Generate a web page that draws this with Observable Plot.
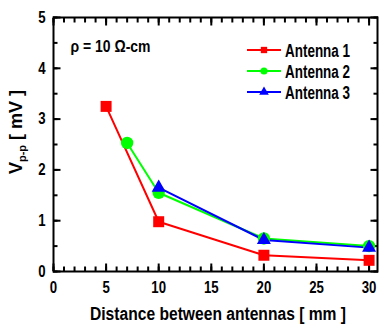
<!DOCTYPE html>
<html>
<head>
<meta charset="utf-8">
<script src="https://cdn.jsdelivr.net/npm/d3@7"></script>
<script src="https://cdn.jsdelivr.net/npm/@observablehq/plot@0.6"></script>
<style>
  html, body { margin: 0; padding: 0; background: #fff; }
  #wrap { position: relative; width: 380px; height: 327px; }
</style>
</head>
<body>
<div id="wrap"></div>
<script>
// ---- data ----
const seriesNames = ["Antenna 1", "Antenna 2", "Antenna 3"];
const seriesColors = ["#ff0000", "#00ff00", "#0000ff"];
const seriesSymbols = ["square", "circle", "triangle"];
const seriesR = [6.2, 6.2, 5.2];
const ant1X = [5, 10, 20, 30];
const ant1Y = [3.25, 0.98, 0.32, 0.22];
const ant2X = [7, 10, 20, 30];
const ant2Y = [2.53, 1.55, 0.65, 0.50];
const ant3X = [10, 20, 30];
const ant3Y = [1.65, 0.62, 0.47];
const xMajorTicks = [0, 5, 10, 15, 20, 25, 30];
const yMajorTicks = [0, 1, 2, 3, 4, 5];
const xLabel = "Distance between antennas [ mm ]";
const annotation = "\u03C1 = 10 \u03A9-cm";

const seriesX = [ant1X, ant2X, ant3X];
const seriesY = [ant1Y, ant2Y, ant3Y];
const data = seriesNames.flatMap((s, i) => seriesX[i].map((x, j) => ({series: s, x, y: seriesY[i][j]})));

const xMinor = d3.range(0, 31, 1);
const yMinor = d3.range(0, 5.01, 0.5);
const font = '"Liberation Sans", Arial, sans-serif';

const W = 380, H = 327, mL = 53, mR = 3, mT = 17, mB = 56;

const marks = [];
// inward ticks on all four sides
const tickSets = [[xMinor, yMinor, 4.5], [xMajorTicks, yMajorTicks, 7.5]];
for (const [tx, ty, len] of tickSets) {
  marks.push(Plot.axisX({anchor: "bottom", ticks: tx, tickSize: len, dy: -len, text: null, label: null, strokeWidth: 2}));
  marks.push(Plot.axisX({anchor: "top", ticks: tx, tickSize: len, dy: len, text: null, label: null, strokeWidth: 2}));
  marks.push(Plot.axisY({anchor: "left", ticks: ty, tickSize: len, dx: len, text: null, label: null, strokeWidth: 2}));
  marks.push(Plot.axisY({anchor: "right", ticks: ty, tickSize: len, dx: -len, text: null, label: null, strokeWidth: 2}));
}
marks.push(Plot.axisX({anchor: "bottom", ticks: xMajorTicks, tickSize: 0, tickPadding: 10, label: null,
  fontSize: 16.5, fontWeight: "bold", tickFormat: d3.format("d")}));
marks.push(Plot.axisY({anchor: "left", ticks: yMajorTicks, tickSize: 0, tickPadding: 8, label: null,
  fontSize: 16.5, fontWeight: "bold", tickFormat: d3.format("d")}));

seriesNames.forEach((s, i) => {
  const d = data.filter(r => r.series === s);
  marks.push(Plot.line(d, {x: "x", y: "y", stroke: seriesColors[i], strokeWidth: 2}));
});
seriesNames.forEach((s, i) => {
  const d = data.filter(r => r.series === s);
  marks.push(Plot.dot(d, {x: "x", y: "y", symbol: () => seriesSymbols[i], fill: seriesColors[i], stroke: "none", r: seriesR[i]}));
});
marks.push(Plot.frame({stroke: "#000", strokeWidth: 2}));
marks.push(Plot.text([annotation], {text: d => d, frameAnchor: "top-left", dx: 17, dy: 23, textAnchor: "start",
  fontSize: 16, fontWeight: "bold", fill: "#000"}));

const chart = Plot.plot({
  width: W, height: H,
  marginLeft: mL, marginRight: mR, marginTop: mT, marginBottom: mB,
  style: {fontFamily: font, background: "#fff", color: "#000"},
  x: {domain: [0, 30.8], axis: null},
  y: {domain: [0, 5], axis: null},
  symbol: {domain: seriesSymbols, range: seriesSymbols},
  marks
});
document.getElementById("wrap").appendChild(chart);

const svg = d3.select(chart);
// condense horizontal text (reference uses a narrow bold face)
function condense(sel, factor, target) {
  sel.each(function () {
    const len = this.getComputedTextLength();
    const t = target != null ? target : len * factor;
    d3.select(this).attr("textLength", t).attr("lengthAdjust", "spacingAndGlyphs");
  });
}
condense(svg.selectAll('g[aria-label="x-axis tick label"] text, g[aria-label="y-axis tick label"] text'), 0.8);
condense(svg.selectAll('g[aria-label="text"] text'), null, 80);

// x title
const xt = svg.append("text").attr("x", 218).attr("y", 320).attr("text-anchor", "middle")
  .attr("font-family", font).attr("font-size", 18).attr("font-weight", "bold")
  .text(xLabel);
condense(xt, null, 256);
// y title with subscript
const yt = svg.append("text").attr("transform", "translate(22,132) rotate(-90)").attr("text-anchor", "middle")
  .attr("font-family", font).attr("font-size", 18).attr("font-weight", "bold");
yt.append("tspan").text("V");
yt.append("tspan").attr("font-size", 11).attr("dy", 4).text("p-p");
yt.append("tspan").attr("dy", -4).text(" [ mV ]");

// legend
const lg = svg.append("g").attr("transform", "translate(247,50)");
seriesNames.forEach((s, i) => {
  const g = lg.append("g").attr("transform", `translate(0,${i * 21})`);
  g.append("line").attr("x1", 0).attr("x2", 34).attr("y1", 0).attr("y2", 0).attr("stroke", seriesColors[i]).attr("stroke-width", 2);
  g.append("path").attr("transform", "translate(17,0)")
    .attr("d", d3.symbol(seriesSymbols[i] === "square" ? d3.symbolSquare : seriesSymbols[i] === "circle" ? d3.symbolCircle : d3.symbolTriangle, 40)())
    .attr("fill", seriesColors[i]);
  const t = g.append("text").attr("x", 38).attr("y", 6.5).attr("text-anchor", "start").attr("font-family", font).attr("font-size", 18).attr("font-weight", "bold")
    .text(s);
  condense(t, null, 65);
});
</script>
</body>
</html>
